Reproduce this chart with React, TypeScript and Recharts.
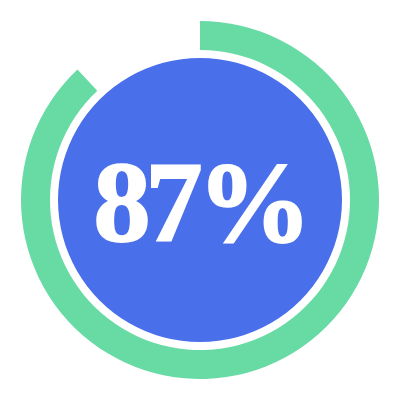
import { PieChart, Pie, Cell, Label } from 'recharts';

const ringValue = [88];
const total = 100;
const ringLabels = ['done', 'rest'];
const ringColors = ['#68DBA4', 'transparent'];
const centreLabel = '87%';

const ringData = ringLabels.map((name, i) => ({
  name,
  value: i === 0 ? ringValue[0] : total - ringValue[0],
}));

const discData = [{ name: 'disc', value: total }];

export default function App() {
  return (
    <div style={{ position: 'absolute', left: 0, top: 0, width: 400, height: 400, background: '#fff' }}>
      <PieChart width={400} height={400} margin={{ top: 0, right: 0, bottom: 0, left: 0 }}>
        <Pie
          data={discData}
          dataKey="value"
          cx={200}
          cy={200}
          innerRadius={0}
          outerRadius={142}
          startAngle={90}
          endAngle={-270}
          stroke="none"
          fill="#4A6FEB"
          isAnimationActive={false}
        >
          <Label
            position="center"
            content={() => (
              <text
                x={200}
                y={241}
                textAnchor="middle"
                fill="#fff"
                stroke="#fff"
                strokeWidth={2}
                fontFamily="'Liberation Serif', serif"
                fontWeight="bold"
                fontSize={114}
                letterSpacing={-5}
              >
                {centreLabel}
              </text>
            )}
          />
        </Pie>
        <Pie
          data={ringData}
          dataKey="value"
          cx={200}
          cy={200}
          innerRadius={150}
          outerRadius={179}
          startAngle={90}
          endAngle={-270}
          stroke="none"
          isAnimationActive={false}
        >
          {ringData.map((d, i) => (
            <Cell key={d.name} fill={ringColors[i]} />
          ))}
        </Pie>
      </PieChart>
    </div>
  );
}
